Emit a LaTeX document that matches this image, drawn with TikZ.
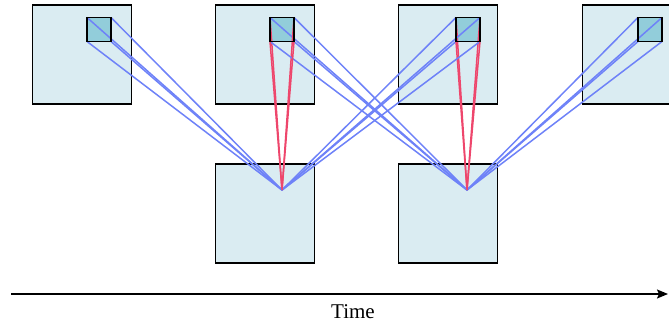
\documentclass[tikz,border=0pt]{standalone}
\usepackage{fontspec}
\setmainfont{Liberation Serif}
\usetikzlibrary{arrows.meta}
\definecolor{framefill}{RGB}{218,236,242}
\definecolor{patchfill}{RGB}{146,205,218}
\definecolor{linkblue}{RGB}{110,130,248}
\definecolor{linkred}{RGB}{238,70,108}
\begin{document}
\begin{tikzpicture}[x=1pt,y=-1pt,
  frame/.style={draw=black,fill=framefill,line width=1.8pt,minimum size=99pt,inner sep=0pt,outer sep=0pt},
  patch/.style={draw=black,fill=patchfill,line width=1.8pt,minimum size=24pt,inner sep=0pt,outer sep=0pt},
  bluelink/.style={draw=linkblue,line width=1.5pt},
  redlink/.style={draw=linkred,line width=1.5pt}]
\useasboundingbox (0,0) rectangle (669,326);
\clip (0,0) rectangle (669,326);
% top row of frames with their patches
\node[frame] (f1) at (82,54.5) {};
\node[frame] (f2) at (265,54.5) {};
\node[frame] (f3) at (448,54.5) {};
\node[frame] (f4) at (632,54.5) {};
\node[patch] (p1) at (99,29.5) {};
\node[patch] (p2) at (282,29.5) {};
\node[patch] (p3) at (468,29.5) {};
\node[patch] (p4) at (650,29.5) {};
% bottom row of frames
\node[frame] (g1) at (265,213.5) {};
\node[frame] (g2) at (448,213.5) {};
\coordinate (q1) at (282,190);
\coordinate (q2) at (467,190);
% links from each query point to the patch corners
\foreach \c in {north west,north east,south west,south east}{
  \draw[bluelink] (q1) -- (p1.\c);
  \draw[bluelink] (q1) -- (p3.\c);
  \draw[bluelink] (q2) -- (p2.\c);
  \draw[bluelink] (q2) -- (p4.\c);
  \draw[redlink] (q1) -- (p2.\c);
  \draw[redlink] (q2) -- (p3.\c);
}
% redraw patch outlines on top of the links
\foreach \p in {p1,p2,p3,p4}{
  \draw[black,line width=1.8pt] (\p.north west) rectangle (\p.south east);
}
% time axis
\coordinate (t0) at (11,294);
\coordinate (t1) at (668,294);
\draw[line width=1.6pt,-{Stealth[length=11pt,width=9pt,inset=2pt]}] (t0) -- (t1);
\node[font=\fontsize{21}{25}\selectfont,anchor=base] (tl) at (353,318) {Time};
\end{tikzpicture}
\end{document}
